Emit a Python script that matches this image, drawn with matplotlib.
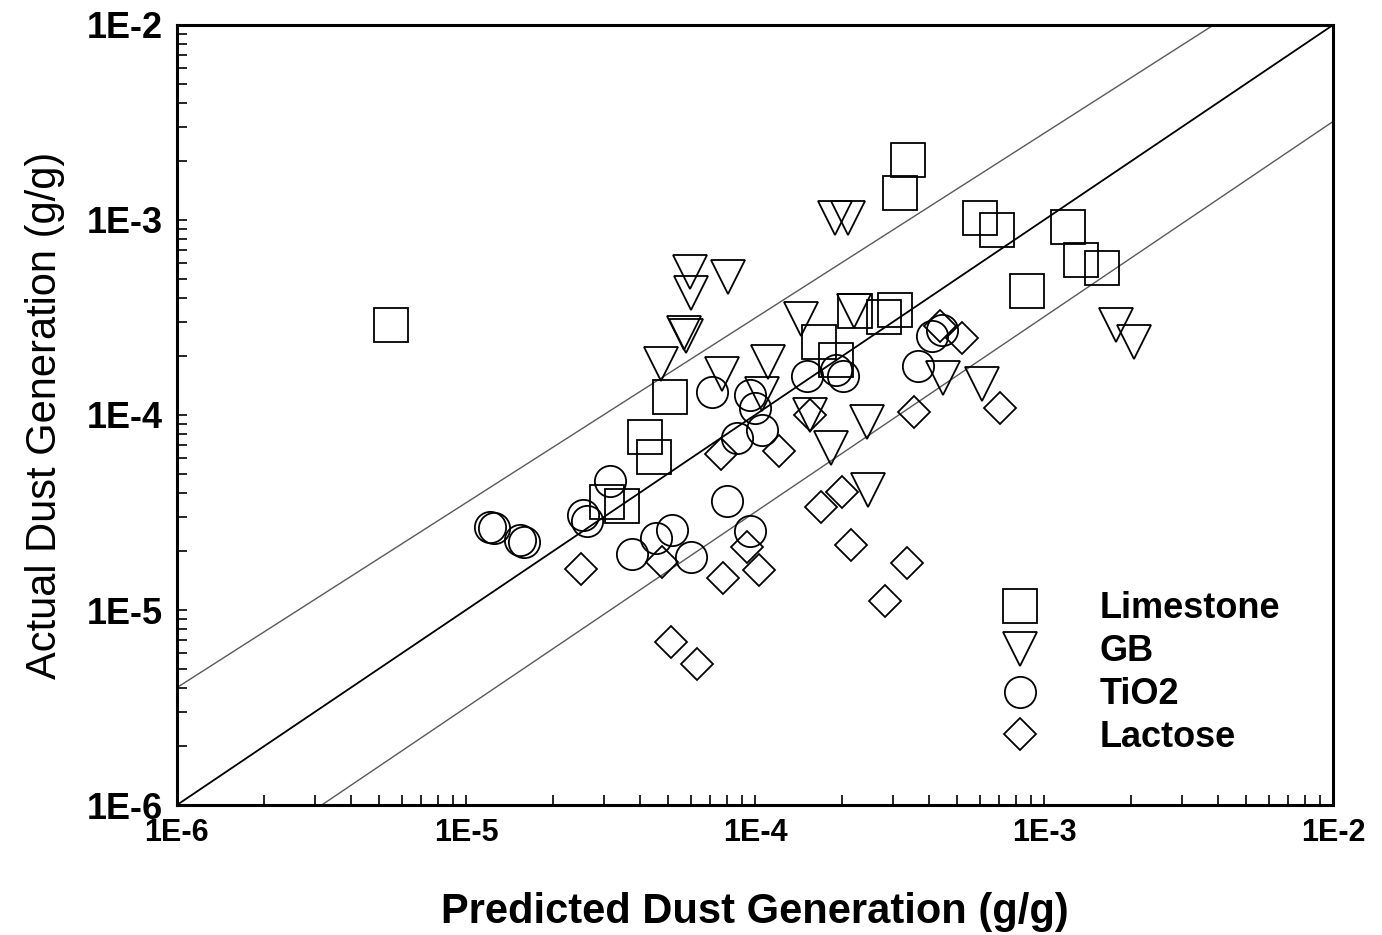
import matplotlib
matplotlib.use("Agg")
import matplotlib.pyplot as plt
import numpy as np
from matplotlib.ticker import LogLocator, NullFormatter, FixedLocator, FixedFormatter

plt.rcParams['font.family'] = ['Liberation Sans', 'DejaVu Sans']

# ---- data ----
limestone_x = [5.5e-6, 3.38e-4, 3.18e-4, 6.0e-4, 6.9e-4, 1.21e-3, 1.34e-3, 1.59e-3, 8.7e-4,
               2.79e-4, 3.05e-4, 2.22e-4, 1.66e-4, 1.91e-4, 5.1e-5, 4.16e-5, 4.47e-5, 3.08e-5, 3.47e-5]
limestone_y = [2.9e-4, 2.03e-3, 1.37e-3, 1.02e-3, 8.9e-4, 9.2e-4, 6.2e-4, 5.7e-4, 4.3e-4,
               3.18e-4, 3.45e-4, 3.41e-4, 2.37e-4, 1.91e-4, 1.24e-4, 7.7e-5, 6.1e-5, 3.58e-5, 3.41e-5]

gb_x = [5.96e-5, 6.01e-5, 8.07e-5, 5.68e-5, 5.77e-5, 4.73e-5, 7.69e-5, 1.11e-4, 1.06e-4, 1.89e-4,
        2.10e-4, 1.44e-4, 2.2e-4, 4.48e-4, 6.1e-4, 1.77e-3, 2.05e-3, 2.44e-4, 1.83e-4, 2.46e-4, 1.55e-4]
gb_y = [5.41e-4, 4.23e-4, 5.1e-4, 2.64e-4, 2.54e-4, 1.83e-4, 1.62e-4, 1.87e-4, 1.28e-4, 1.02e-3,
        1.02e-3, 3.1e-4, 3.41e-4, 1.55e-4, 1.44e-4, 2.9e-4, 2.37e-4, 9.2e-5, 6.78e-5, 4.12e-5, 1.0e-4]

tio2_x = [1.21e-5, 1.25e-5, 1.54e-5, 1.59e-5, 2.54e-5, 2.62e-5, 3.15e-5, 3.75e-5, 4.54e-5, 5.16e-5,
          6.01e-5, 7.1e-5, 8.0e-5, 9.6e-5, 1.0e-4, 8.67e-5, 1.06e-4, 9.6e-5, 1.51e-4, 1.91e-4,
          2.01e-4, 3.66e-4, 4.09e-4, 4.43e-4]
tio2_y = [2.67e-5, 2.64e-5, 2.29e-5, 2.23e-5, 3.07e-5, 2.86e-5, 4.59e-5, 1.94e-5, 2.34e-5, 2.57e-5,
          1.87e-5, 1.31e-4, 3.62e-5, 1.27e-4, 1.09e-4, 7.62e-5, 8.38e-5, 2.54e-5, 1.58e-4, 1.70e-4,
          1.58e-4, 1.78e-4, 2.54e-4, 2.73e-4]

lactose_x = [2.5e-5, 4.77e-5, 7.74e-5, 1.03e-4, 9.38e-5, 5.12e-5, 6.3e-5, 7.62e-5, 1.21e-4, 1.69e-4,
             2.0e-4, 2.15e-4, 2.82e-4, 3.36e-4, 3.55e-4, 1.55e-4, 7.05e-4, 4.37e-4, 5.2e-4]
lactose_y = [1.62e-5, 1.76e-5, 1.46e-5, 1.60e-5, 2.1e-5, 6.86e-6, 5.28e-6, 6.31e-5, 6.53e-5, 3.37e-5,
             4.03e-5, 2.16e-5, 1.11e-5, 1.74e-5, 1.04e-4, 1.0e-4, 1.09e-4, 2.86e-4, 2.48e-4]

# reference lines (end points)
line_mid_x = [1e-6, 1e-2]
line_mid_y = [1e-6, 1e-2]
line_up_x = [1e-6, 3.86e-3]
line_up_y = [4e-6, 1e-2]
line_lo_x = [3.17e-6, 1e-2]
line_lo_y = [1e-6, 3.2e-3]

tick_vals = [1e-6, 1e-5, 1e-4, 1e-3, 1e-2]
tick_labels = ['1E-6', '1E-5', '1E-4', '1E-3', '1E-2']
series_labels = ['Limestone', 'GB', 'TiO2', 'Lactose']

# ---- figure ----
fig = plt.figure(figsize=(13.82, 9.35), dpi=100)
ax = fig.add_axes([0.128, 0.139, 0.8366, 0.8343])
ax.set_xscale('log')
ax.set_yscale('log')
ax.set_xlim(1e-6, 1e-2)
ax.set_ylim(1e-6, 1e-2)

ax.plot(line_mid_x, line_mid_y, color='black', lw=1.3, zorder=1)
ax.plot(line_up_x, line_up_y, color='0.35', lw=1.0, zorder=1)
ax.plot(line_lo_x, line_lo_y, color='0.35', lw=1.0, zorder=1)

mew = 1.3
h1, = ax.plot(limestone_x, limestone_y, 's', ms=24, mfc='none', mec='black', mew=mew, ls='none')
h2, = ax.plot(gb_x, gb_y, 'v', ms=24, mfc='none', mec='black', mew=mew, ls='none')
h3, = ax.plot(tio2_x, tio2_y, 'o', ms=22.5, mfc='none', mec='black', mew=mew, ls='none')
h4, = ax.plot(lactose_x, lactose_y, 'D', ms=16.3, mfc='none', mec='black', mew=mew, ls='none')

leg = ax.legend([h1, h2, h3, h4], series_labels, loc='upper left',
                bbox_to_anchor=(0.7137, 0.274), frameon=False, borderpad=0, borderaxespad=0,
                handlelength=1.0, handletextpad=1.7, labelspacing=0.22,
                prop={'weight': 'bold', 'size': 26})

for s in ax.spines.values():
    s.set_linewidth(2.2)

ax.xaxis.set_major_locator(FixedLocator(tick_vals))
ax.xaxis.set_major_formatter(FixedFormatter(tick_labels))
ax.yaxis.set_major_locator(FixedLocator(tick_vals))
ax.yaxis.set_major_formatter(FixedFormatter(tick_labels))
ax.xaxis.set_minor_locator(LogLocator(base=10, subs=np.arange(2, 10)))
ax.yaxis.set_minor_locator(LogLocator(base=10, subs=np.arange(2, 10)))
ax.xaxis.set_minor_formatter(NullFormatter())
ax.yaxis.set_minor_formatter(NullFormatter())

ax.tick_params(which='both', direction='in', top=False, right=False, length=7, width=1.2)
ax.tick_params(axis='x', which='major', labelsize=22, pad=9)
ax.tick_params(axis='y', which='major', labelsize=26, pad=10)
for lab in ax.get_xticklabels() + ax.get_yticklabels():
    lab.set_fontweight('bold')

ax.set_xlabel('Predicted Dust Generation (g/g)', fontsize=30, fontweight='bold', labelpad=32)
ax.set_ylabel('Actual Dust Generation (g/g)', fontsize=30, labelpad=16)

fig.savefig('out.png', dpi=100)
